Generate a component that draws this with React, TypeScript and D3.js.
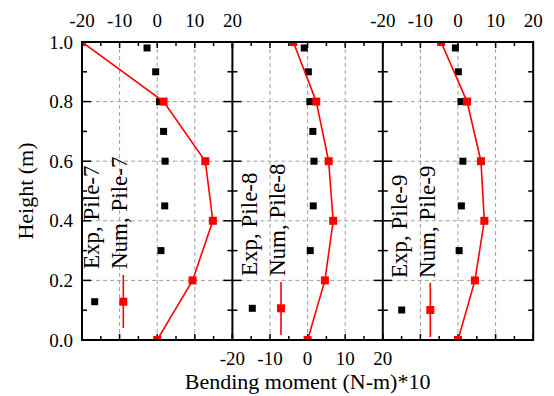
import React from 'react';
import * as d3 from 'd3';

// ---- data ----
const pileNames = ['Pile-7', 'Pile-8', 'Pile-9'];
const numHeights = [1.0, 0.8, 0.6, 0.4, 0.2, 0.0];
const numPile7 = [-20, 1.7, 12.8, 14.8, 9.4, 0];
const numPile8 = [-3.8, 2.3, 5.6, 6.8, 4.6, 0];
const numPile9 = [-4.5, 2.4, 6.1, 7.0, 4.5, 0];
const expHeights7 = [0.98, 0.9, 0.8, 0.7, 0.6, 0.45, 0.3];
const expPile7 = [-2.7, -0.4, 0.6, 1.7, 2.1, 2.0, 1.0];
const expHeights8 = [0.98, 0.9, 0.8, 0.7, 0.6, 0.45, 0.3];
const expPile8 = [-0.9, 0.2, 0.6, 1.4, 1.7, 1.5, 0.7];
const expHeights9 = [0.98, 0.9, 0.8, 0.6, 0.45, 0.3];
const expPile9 = [-0.7, 0.1, 0.8, 1.3, 0.9, 0.3];
const xTickLabels = [-20, -10, 0, 10, 20];
const yTickLabels = [0.0, 0.2, 0.4, 0.6, 0.8, 1.0];

const FONT = '"Liberation Serif", "Times New Roman", serif';

const panels = [
  { name: pileNames[0], num: numPile7, expH: expHeights7, exp: expPile7, topLabels: true, bottomLabels: false,
    leg: { expX: 99, numX: 127, textY: 269, sqX: 94.7, sqY: 301.7, lineX: 123.3, l0: 275, l1: 328 } },
  { name: pileNames[1], num: numPile8, expH: expHeights8, exp: expPile8, topLabels: false, bottomLabels: true,
    leg: { expX: 257, numX: 285, textY: 276, sqX: 252.3, sqY: 308.3, lineX: 281, l0: 282, l1: 335 } },
  { name: pileNames[2], num: numPile9, expH: expHeights9, exp: expPile9, topLabels: true, bottomLabels: false,
    leg: { expX: 407, numX: 435, textY: 278, sqX: 401.7, sqY: 310, lineX: 430.3, l0: 283, l1: 337 } },
];

export default function App() {
  const W = 554, H = 396;
  const left = 82, pw = 150.4, top = 42, bottom = 340;
  const y = d3.scaleLinear().domain([0, 1]).range([bottom, top]);
  const yMinor = d3.range(0, 1.0001, 0.1);

  return (
    <svg width={W} height={H} style={{ position: 'absolute', left: 0, top: 0, background: '#fff' }}
      fontFamily={FONT}>
      <rect x={0} y={0} width={W} height={H} fill="#fff" />
      <defs>
        {panels.map((p, i) => (
          <clipPath id={`clip${i}`} key={i}>
            <rect x={left + i * pw} y={top} width={pw} height={bottom - top} />
          </clipPath>
        ))}
      </defs>
      {panels.map((p, i) => {
        const x0 = left + i * pw;
        const x = d3.scaleLinear().domain([-20, 20]).range([x0, x0 + pw]);
        const xMinor = d3.range(-20, 20.001, 5);
        const line = d3.line<number>().x((d) => x(d)).y((d, k) => y(numHeights[k]));
        const lg = p.leg;
        return (
          <g key={i}>
            {[-10, 0, 10].map((v) => (
              <line key={'gx' + v} x1={x(v)} x2={x(v)} y1={top} y2={bottom} stroke="#a0a0a0" strokeWidth={1} strokeDasharray="4,3" />
            ))}
            {[0.2, 0.4, 0.6, 0.8].map((v) => (
              <line key={'gy' + v} x1={x0} x2={x0 + pw} y1={y(v)} y2={y(v)} stroke="#a0a0a0" strokeWidth={1} strokeDasharray="4,3" />
            ))}
            {xMinor.map((v) => {
              const major = Math.abs(v % 10) < 1e-6;
              const len = major ? 6 : 4;
              return (
                <g key={'xt' + v}>
                  <line x1={x(v)} x2={x(v)} y1={top} y2={top + len} stroke="#000" strokeWidth={1.5} />
                  <line x1={x(v)} x2={x(v)} y1={bottom} y2={bottom - len} stroke="#000" strokeWidth={1.5} />
                </g>
              );
            })}
            {yMinor.map((v, k) => {
              const major = k % 2 === 0;
              const len = major ? 9 : 5;
              return (
                <g key={'yt' + k}>
                  <line x1={x0} x2={x0 + len} y1={y(v)} y2={y(v)} stroke="#000" strokeWidth={1.5} />
                  <line x1={x0 + pw} x2={x0 + pw - len} y1={y(v)} y2={y(v)} stroke="#000" strokeWidth={1.5} />
                </g>
              );
            })}
            <g clipPath={`url(#clip${i})`}>
              {p.exp.map((v, k) => (
                <rect key={'e' + k} x={x(v) - 3.5} y={y(p.expH[k]) - 3.5} width={7} height={7} fill="#000" />
              ))}
              <path d={line(p.num) || ''} fill="none" stroke="#ff0000" strokeWidth={1.6} />
              {p.num.map((v, k) => (
                <rect key={'n' + k} x={x(v) - 4} y={y(numHeights[k]) - 4} width={8} height={8} fill="#ff0000" />
              ))}
            </g>
            {p.topLabels && xTickLabels.map((v) => (
              <text key={'tl' + v} x={x(v)} y={27} fontSize={19} textAnchor="middle">{v}</text>
            ))}
            {p.bottomLabels && xTickLabels.map((v) => (
              <text key={'bl' + v} x={x(v)} y={365} fontSize={19} textAnchor="middle">{v}</text>
            ))}
            <text transform={`translate(${lg.expX},${lg.textY}) rotate(-90)`} fontSize={23}>Exp, {p.name}</text>
            <text transform={`translate(${lg.numX},${lg.textY}) rotate(-90)`} fontSize={23}>Num, {p.name}</text>
            <rect x={lg.sqX - 3.5} y={lg.sqY - 3.5} width={7} height={7} fill="#000" />
            <line x1={lg.lineX} x2={lg.lineX} y1={lg.l0} y2={lg.l1} stroke="#ff0000" strokeWidth={1.6} />
            <rect x={lg.lineX - 4} y={lg.sqY - 4} width={8} height={8} fill="#ff0000" />
          </g>
        );
      })}
      <rect x={left} y={top} width={3 * pw} height={bottom - top} fill="none" stroke="#000" strokeWidth={2} />
      {[1, 2].map((i) => (
        <line key={'sep' + i} x1={left + i * pw} x2={left + i * pw} y1={top} y2={bottom} stroke="#000" strokeWidth={2} />
      ))}
      {yTickLabels.map((v) => (
        <text key={'yl' + v} x={73} y={y(v) + 6.5} fontSize={19} textAnchor="end">{v.toFixed(1)}</text>
      ))}
      <text transform={`translate(33,${(top + bottom) / 2}) rotate(-90)`} fontSize={22} textAnchor="middle">Height (m)</text>
      <text x={left + 1.5 * pw} y={389} fontSize={22} textAnchor="middle">Bending moment (N-m)*10</text>
    </svg>
  );
}
